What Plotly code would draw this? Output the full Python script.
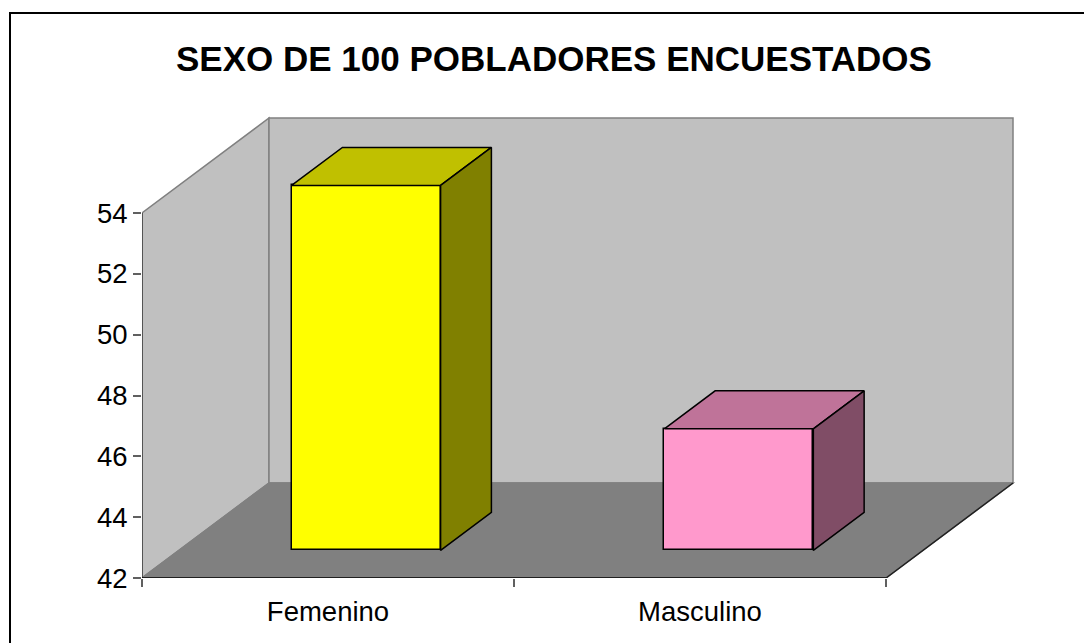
"""Columnas 3D de Excel (sexo de 100 pobladores) dibujadas en ejes cartesianos de Plotly."""

import plotly.graph_objects as go

categorias = ["Femenino", "Masculino"]
valores = [54, 46]
ticks_y = [42, 44, 46, 48, 50, 52, 54]
titulo = "SEXO DE 100 POBLADORES ENCUESTADOS"

colores_frente = ["#FFFF00", "#FF99CC"]
colores_arriba = ["#C0C000", "#BF7399"]
colores_lado = ["#808000", "#804D66"]

FUENTE = "Liberation Sans, Arial, sans-serif"
ANCHO, ALTO = 1084, 643

# escala en pixeles: eje x de 142 a 886, eje y de 578 (42) a 213 (54)
PX_CAT = 372.0
PX_UNI = 365 / 12
X0, Y0 = 142, 578
RESERVA = 10
X_FIN = 1015 + RESERVA
Y_FIN = 117 - RESERVA

# profundidad de la caja en unidades de cada eje
PROF_X = 127 / PX_CAT
PROF_Y = 95 / PX_UNI
ANCHO_BARRA = 149 / PX_CAT
MIN_Y = ticks_y[0]
MAX_Y = ticks_y[-1]
N = len(categorias)


def pared(xs, ys, color, borde):
    return dict(type="path", xref="x", yref="y", layer="below", fillcolor=color,
                line=dict(color=borde, width=1.5),
                path="M " + " L ".join(f"{a},{b}" for a, b in zip(xs, ys)) + " Z")


def cara(xs, ys, color):
    return go.Scatter(x=xs, y=ys, mode="lines", fill="toself", fillcolor=color,
                      line=dict(color="black", width=1.5), hoverinfo="skip", showlegend=False)


def linea(xs, ys, color, ancho=1.5):
    return go.Scatter(x=xs, y=ys, mode="lines", line=dict(color=color, width=ancho),
                      cliponaxis=False, hoverinfo="skip", showlegend=False)


def px_a_paper_x(px):
    return (px - X0) / (X_FIN - X0)


def px_a_paper_y(py):
    return (Y0 - py) / (Y0 - Y_FIN)


fig = go.Figure()

# frente de cada columna, a 30 % de la profundidad
dx_frente = PROF_X * 0.3
dy_frente = PROF_Y * 0.29
dx_fondo = PROF_X * 0.4
dy_fondo = PROF_Y * 0.4
centros = [i + 0.5 + dx_frente + 0.002 * i for i in range(N)]
base = MIN_Y + dy_frente

fig.add_trace(go.Bar(
    x=centros,
    y=[v - MIN_Y for v in valores],
    base=base,
    width=ANCHO_BARRA,
    marker=dict(color=colores_frente, line=dict(color="black", width=1.5)),
    customdata=categorias,
    hovertemplate="%{customdata}: %{y}<extra></extra>",
    showlegend=False,
))

for i, v in enumerate(valores):
    izq = centros[i] - ANCHO_BARRA / 2
    der = centros[i] + ANCHO_BARRA / 2
    tope = v + dy_frente
    fig.add_trace(cara([izq, izq + dx_fondo, der + dx_fondo, der, izq],
                       [tope, tope + dy_fondo, tope + dy_fondo, tope, tope],
                       colores_arriba[i]))
    fig.add_trace(cara([der, der + dx_fondo, der + dx_fondo, der, der],
                       [tope, tope + dy_fondo, base + dy_fondo, base, tope],
                       colores_lado[i]))

# ejes que no deben recortarse
fig.add_trace(linea([0, 0], [MIN_Y, MAX_Y], "#404040"))
fig.add_trace(linea([0, N], [MIN_Y, MIN_Y], "black"))
fig.add_trace(linea([N, N + PROF_X], [MIN_Y, MIN_Y + PROF_Y], "#202020"))

# marco exterior: solo lados izquierdo y superior quedan visibles
marco = dict(type="path", xref="paper", yref="paper", line=dict(color="black", width=2),
             path=f"M {px_a_paper_x(10)},{px_a_paper_y(ALTO)} "
                  f"L {px_a_paper_x(10)},{px_a_paper_y(13)} "
                  f"L {px_a_paper_x(ANCHO)},{px_a_paper_y(13)}")

fig.update_layout(
    width=ANCHO,
    height=ALTO,
    margin=dict(l=X0, r=ANCHO - X_FIN, t=Y_FIN, b=ALTO - Y0, pad=0),
    paper_bgcolor="white",
    plot_bgcolor="white",
    font=dict(family=FUENTE, color="black"),
    bargap=0,
    showlegend=False,
    xaxis=dict(
        range=[0, (X_FIN - X0) / PX_CAT],
        tickmode="array",
        tickvals=[i + 0.5 for i in range(N)],
        ticktext=categorias,
        ticks="",
        ticklabelstandoff=14,
        tickfont=dict(family=FUENTE, size=27.5, color="black"),
        showgrid=False,
        zeroline=False,
        showline=False,
        minor=dict(tickmode="array", tickvals=list(range(N + 1)), ticks="outside",
                   ticklen=8, tickwidth=1.5, tickcolor="#606060", showgrid=False),
    ),
    yaxis=dict(
        range=[MIN_Y, MIN_Y + (Y0 - Y_FIN) / PX_UNI],
        tickmode="array",
        tickvals=ticks_y,
        ticks="outside",
        ticklen=8,
        tickwidth=1.5,
        tickcolor="#606060",
        tickfont=dict(family=FUENTE, size=27.5, color="black"),
        showgrid=False,
        zeroline=False,
        showline=False,
    ),
    shapes=[
        pared([0, PROF_X, PROF_X, 0], [MIN_Y, MIN_Y + PROF_Y, MAX_Y + PROF_Y, MAX_Y], "#C0C0C0", "#808080"),
        pared([PROF_X, N + PROF_X, N + PROF_X, PROF_X],
              [MIN_Y + PROF_Y, MIN_Y + PROF_Y, MAX_Y + PROF_Y, MAX_Y + PROF_Y], "#C0C0C0", "#808080"),
        pared([0, N, N + PROF_X, PROF_X], [MIN_Y, MIN_Y, MIN_Y + PROF_Y, MIN_Y + PROF_Y], "#808080", "#808080"),
        marco,
    ],
    annotations=[dict(
        text=f"<b>{titulo}</b>",
        xref="paper", yref="paper",
        x=px_a_paper_x(554),
        y=px_a_paper_y(58),
        showarrow=False,
        xanchor="center", yanchor="middle",
        font=dict(family=FUENTE, size=35, color="black"),
    )],
)

fig.write_html("out.html", config=dict(displayModeBar=False),
               post_script="document.body.style.margin='0';document.documentElement.style.overflow='hidden';")
